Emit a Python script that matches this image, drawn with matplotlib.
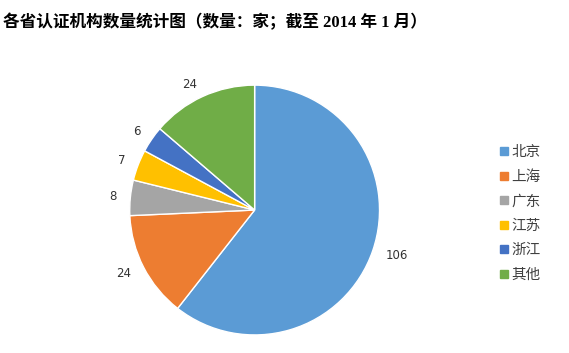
import matplotlib.pyplot as plt
from matplotlib.lines import Line2D

plt.rcParams['font.family'] = ['DejaVu Sans', 'Noto Sans CJK SC']

provinces = ['北京', '上海', '广东', '江苏', '浙江', '其他']
counts = [106, 24, 8, 7, 6, 24]
colors = ['#5B9BD5', '#ED7D31', '#A5A5A5', '#FFC000', '#4472C4', '#70AD47']
title = '各省认证机构数量统计图（数量：家；截至 2014 年 1 月）'

fig = plt.figure(figsize=(5.69, 3.53), dpi=100)
ax = fig.add_axes([0.228, 0.051, 0.439, 0.708])

wedges, texts = ax.pie(counts, labels=[str(c) for c in counts], colors=colors,
                       startangle=90, counterclock=False, labeldistance=1.11,
                       wedgeprops=dict(edgecolor='white', linewidth=1),
                       textprops=dict(fontsize=8.5, color='#333333'))
ax.set_xlim(-1, 1)
ax.set_ylim(-1, 1)
ax.set_aspect('equal')
ax.axis('off')

handles = [Line2D([], [], marker='s', linestyle='none', markersize=6,
                  markerfacecolor=c, markeredgecolor=c) for c in colors]
leg = fig.legend(handles, provinces, loc='upper left', bbox_to_anchor=(0.868, 0.605),
                 frameon=False, fontsize=10.5, handlelength=0.6, handletextpad=0.2,
                 labelspacing=0.72, borderaxespad=0)
for t in leg.get_texts():
    t.set_color('#404040')
    t.set_family(['Noto Sans CJK SC'])

fig.text(0.005, 0.935, title, fontsize=12, fontweight='bold', va='center',
         family=['Liberation Serif', 'Noto Sans CJK SC'])

fig.savefig('out.png', dpi=100)
